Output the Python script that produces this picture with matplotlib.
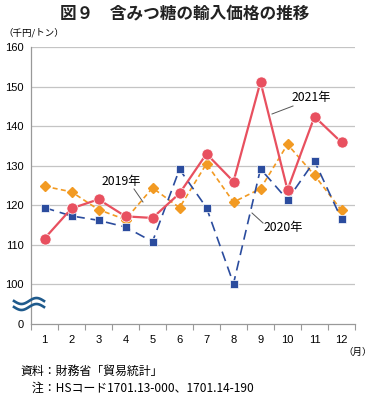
import numpy as np
import matplotlib
matplotlib.use("Agg")
import matplotlib.pyplot as plt

plt.rcParams['font.family'] = ['Noto Sans CJK JP', 'DejaVu Sans']

months = [1, 2, 3, 4, 5, 6, 7, 8, 9, 10, 11, 12]
month_labels = [str(m) for m in months]
y2019 = [124.8, 123.4, 118.9, 116.4, 124.4, 119.4, 130.5, 120.8, 124.2, 135.4, 127.6, 118.7]
y2020 = [119.4, 117.3, 116.2, 114.5, 110.8, 129.1, 119.4, 100.2, 129.2, 121.4, 131.2, 116.5]
y2021 = [111.6, 119.2, 121.5, 117.2, 116.8, 123.0, 133.0, 126.0, 151.2, 123.9, 142.4, 135.9]
yticks = [90, 100, 110, 120, 130, 140, 150, 160]
ytick_labels = ['0', '100', '110', '120', '130', '140', '150', '160']

W, H = 370, 395
fig = plt.figure(figsize=(W / 100, H / 100), dpi=100)
ax = fig.add_axes([31 / W, 1 - 324 / H, (355 - 31) / W, (324 - 47) / H])

red = '#E8505F'
orange = '#F29A22'
blue = '#2B4C9E'

ax.plot(months, y2019, color=orange, lw=1.2, ls=(0, (3, 2)), marker='D', ms=4.8,
        mfc=orange, mec=orange, zorder=3)
ax.plot(months, y2020, color=blue, lw=1.2, ls=(0, (6, 3.5)), marker='s', ms=6.3,
        mfc=blue, mec='white', mew=0.5, zorder=4)
ax.plot(months, y2021, color=red, lw=1.6, marker='o', ms=8,
        mfc=red, mec='white', mew=0.5, zorder=5)

ax.set_xlim(0.5, 12.5)
ax.set_ylim(90, 160)
ax.set_yticks(yticks)
ax.set_yticklabels(ytick_labels, fontsize=8, family=['Liberation Sans', 'DejaVu Sans'])
for y in yticks[1:]:
    ax.axhline(y, color='#C4C4C4', lw=0.9, zorder=1)

ax.set_xticks(months)
ax.set_xticklabels(month_labels, fontsize=8, family=['Liberation Sans', 'DejaVu Sans'])
ax.set_xticks(np.arange(0.5, 13, 1), minor=True)
ax.tick_params(axis='x', which='major', length=0, pad=8)
ax.tick_params(axis='x', which='minor', length=4, color='#999999', width=0.8)
ax.tick_params(axis='y', length=0, pad=5)

for s in ['top', 'right']:
    ax.spines[s].set_visible(False)
for s in ['left', 'bottom']:
    ax.spines[s].set_color('#999999')
    ax.spines[s].set_linewidth(0.9)

# break symbol
tx = np.linspace(0, 1, 60)
for off in [0, -6]:
    xs = 14 + tx * 30
    ys = 301 - off + 3 * np.sin(tx * 2 * np.pi)
    fig.add_artist(plt.Line2D(xs / W, 1 - ys / H, color='#1F5A8C', lw=1.9,
                              transform=fig.transFigure))

# annotations
def annotate(text, tx_, ty_, x0, y0, x1, y1):
    fig.text(tx_ / W, 1 - ty_ / H, text, fontsize=8.8, ha='left', va='center')
    fig.add_artist(plt.Line2D([x0 / W, x1 / W], [1 - y0 / H, 1 - y1 / H],
                              color='#555555', lw=0.7, transform=fig.transFigure))

annotate('2021年', 292, 98, 293, 106, 272, 114)
annotate('2019年', 102, 182, 134, 189, 143, 202)
annotate('2020年', 264, 228, 252, 213, 263, 223)

fig.text(W / 2 / W, 1 - 13 / H, '図９　含みつ糖の輸入価格の推移', fontsize=12,
         ha='center', va='center', fontweight='bold', color='#222222')
fig.text(3 / W, 1 - 33 / H, '（千円/トン）', fontsize=6.8, ha='left', va='center')
fig.text(343 / W, 1 - 352 / H, '（月）', fontsize=6.8, ha='left', va='center')
fig.text(20 / W, 1 - 371 / H, '資料：財務省「貿易統計」', fontsize=8.6, ha='left', va='center')
fig.text(20 / W, 1 - 388 / H, '　注：HSコード1701.13-000、1701.14-190', fontsize=8.6,
         ha='left', va='center')

fig.savefig('out.png', dpi=100, facecolor='white')
